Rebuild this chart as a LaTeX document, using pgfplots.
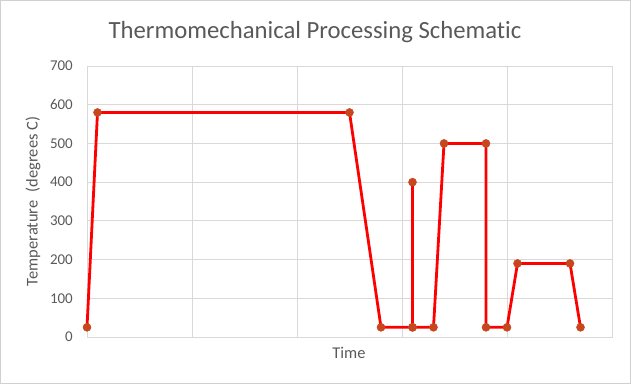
\documentclass[border=0pt]{standalone}
\usepackage{pgfplots}
\pgfplotsset{compat=1.18}
\usepackage{fontspec}
\setmainfont{Carlito}[Ligatures=NoCommon]
\definecolor{gridc}{HTML}{D9D9D9}
\definecolor{framec}{HTML}{D0D0D0}
\definecolor{txt}{HTML}{595959}
\definecolor{lnc}{HTML}{FF0000}
\definecolor{mkc}{HTML}{C8461E}
\begin{document}
\begin{tikzpicture}[x=1bp,y=1bp]
\path[use as bounding box] (0,0) rectangle (631,384);
\draw[framec, line width=1.2bp] (0.6,0.6) rectangle (630.4,383.4);
\node[anchor=base, text=txt, font=\fontsize{24.8}{29}\selectfont] at (315,346) {Thermomechanical Processing Schematic};
\begin{axis}[
  at={(87bp,47bp)}, anchor=south west,
  scale only axis, width=525bp, height=271bp,
  xmin=0, xmax=50, ymin=0, ymax=700,
  xtick={0,10,...,50}, ytick={0,100,...,700},
  xticklabels={},
  major tick length=0pt,
  grid=major,
  grid style={gridc, line width=1bp},
  axis line style={gridc, line width=1bp},
  tick label style={text=txt, font=\fontsize{15}{18}\selectfont},
  /pgf/number format/assume math mode=true,
  yticklabel style={anchor=east, inner sep=0pt, xshift=-14bp},
  xlabel={Time},
  ylabel={Temperature\hspace{0.5em}(degrees C)},
  label style={text=txt, font=\fontsize{16.5}{20}\selectfont},
  xlabel style={at={(axis description cs:0.499,-0.058)}, anchor=center},
  ylabel style={at={(axis description cs:-0.1029,0.5)}, anchor=center},
  clip=false,
]
\addplot[color=lnc, line width=2.8bp, mark=*, mark size=4bp,
  mark options={fill=mkc, draw=mkc, line width=0.5bp}] coordinates {
  (0,25) (1,580) (25,580) (28,25) (31,25) (31,400) (31,25) (33,25)
  (34,500) (38,500) (38,25) (40,25) (41,190) (46,190) (47,25)
};
\end{axis}
\end{tikzpicture}
\end{document}
